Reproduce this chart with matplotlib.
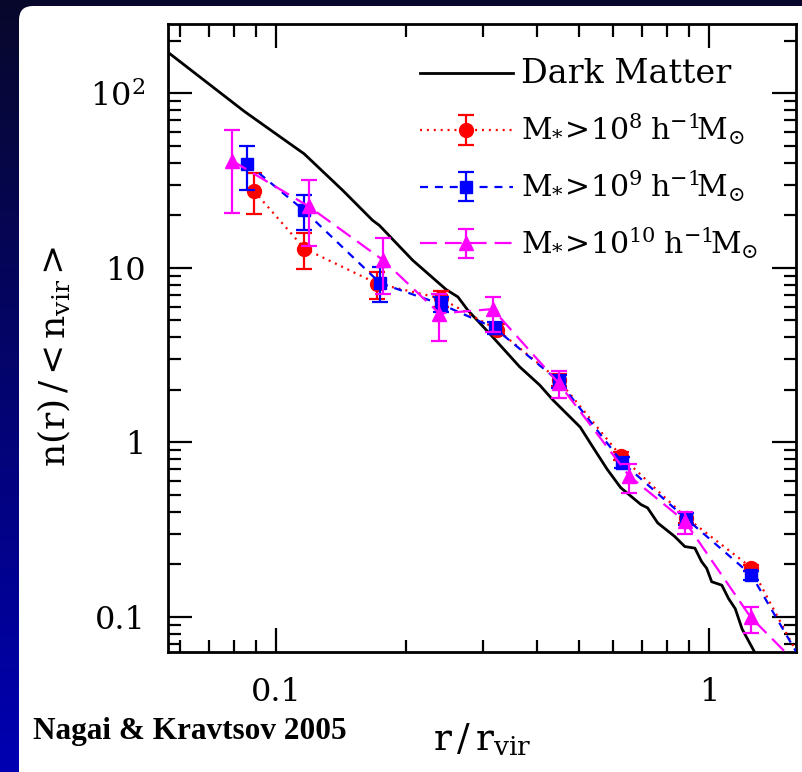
import numpy as np
import matplotlib
matplotlib.use("Agg")
import matplotlib.pyplot as plt
from matplotlib.patches import FancyBboxPatch
from matplotlib.ticker import FixedLocator, FixedFormatter, NullFormatter

plt.rcParams['font.family'] = ['DejaVu Serif']
plt.rcParams['mathtext.fontset'] = 'dejavuserif'

# dark matter profile n(r)/<n_vir>
dm_r = [0.056, 0.0845, 0.1, 0.1162, 0.1426, 0.1672, 0.1733, 0.2069, 0.2472, 0.263,
        0.2773, 0.3112, 0.365, 0.406, 0.4363, 0.469, 0.5036, 0.5362, 0.5809, 0.6243,
        0.6953, 0.7204, 0.7603, 0.8318, 0.8779, 0.9262, 0.9598, 0.9862, 1.0127, 1.0687,
        1.108, 1.148, 1.19, 1.279]
dm_n = [174, 78.9, 58.6, 45.0, 27.8, 18.7, 17.5, 11.04, 7.50, 6.81,
        5.71, 4.20, 2.71, 2.13, 1.741, 1.457, 1.222, 0.956, 0.702, 0.550,
        0.440, 0.421, 0.345, 0.2888, 0.2527, 0.2474, 0.2072, 0.1895, 0.1588, 0.1518,
        0.127, 0.1112, 0.0852, 0.0612]

# M* > 1e8
r8 = [0.0891, 0.1164, 0.1713, 0.2406, 0.3236, 0.4494, 0.6243, 0.8857, 1.251, 1.77]
n8 = [27.5, 12.88, 8.12, 6.67, 4.43, 2.27, 0.837, 0.3694, 0.1912, 0.038]
lo8 = [20.4, 9.9, 6.60, 6.0, 4.15, 2.10, 0.79, 0.347, 0.184, 0.038]
hi8 = [34.8, 15.9, 9.46, 7.4, 4.75, 2.45, 0.885, 0.392, 0.199, 0.038]

# M* > 1e9
r9 = [0.086, 0.1162, 0.1739, 0.2406, 0.3196, 0.4494, 0.630, 0.8857, 1.251, 1.77]
n9 = [39.5, 21.3, 8.18, 6.18, 4.52, 2.24, 0.766, 0.364, 0.1734, 0.0395]
lo9 = [27.8, 16.4, 6.37, 5.6, 4.20, 2.06, 0.71, 0.338, 0.163, 0.0395]
hi9 = [50.2, 26.3, 10.1, 6.8, 4.87, 2.44, 0.826, 0.392, 0.184, 0.0395]

# M* > 1e10
r10 = [0.0791, 0.119, 0.177, 0.2385, 0.3162, 0.4494, 0.6527, 0.878, 1.245, 1.77]
n10 = [41.2, 22.5, 11.04, 5.47, 5.80, 2.18, 0.643, 0.353, 0.0996, 0.0413]
lo10 = [20.6, 13.3, 7.12, 3.81, 4.29, 1.80, 0.514, 0.30, 0.0809, 0.0413]
hi10 = [61.7, 31.7, 14.75, 7.12, 6.78, 2.56, 0.751, 0.40, 0.1138, 0.0413]

W, H = 802, 772
fig = plt.figure(figsize=(W / 100, H / 100), dpi=100)

# background: blue gradient with white rounded panel
bg = fig.add_axes([0, 0, 1, 1])
bg.set_xlim(0, W)
bg.set_ylim(H, 0)
bg.axis('off')
t = np.linspace(0, 1, 256)[:, None]
top = np.array([0.03, 0.03, 0.17])
bot = np.array([0.0, 0.0, 0.70])
grad = (top + (bot - top) * t[:, :, None]) * np.ones((1, 2, 1))
bg.imshow(grad, extent=[0, W, H, 0], aspect='auto', zorder=0)
bg.add_patch(FancyBboxPatch((19, 6), 840, 800, boxstyle="round,pad=0,rounding_size=14",
                            fc='white', ec='none', zorder=1))

ax = fig.add_axes([167.5 / W, 1 - 651.7 / H, (796 - 167.5) / W, (651.7 - 23.5) / H])
ax.set_xscale('log')
ax.set_yscale('log')
ax.set_xlim(10 ** -1.25, 10 ** 0.2)
ax.set_ylim(10 ** -1.2, 10 ** 2.4)

ax.plot(dm_r, dm_n, color='black', lw=2.0, label='Dark Matter', zorder=3)

lw = 1.6
series = [
    (r8, n8, lo8, hi8, 'red', 'o', 10, (0, (0.9, 2.2)), r'$\mathrm{M_{*}\!>\!10^8\;h^{-1}\!M_{\odot}}$'),
    (r9, n9, lo9, hi9, 'blue', 's', 8, (0, (3.6, 3.1)), r'$\mathrm{M_{*}\!>\!10^9\;h^{-1}\!M_{\odot}}$'),
    (r10, n10, lo10, hi10, 'magenta', '^', 10, (0, (7.6, 3.6)), r'$\mathrm{M_{*}\!>\!10^{10}\;h^{-1}\!M_{\odot}}$'),
]
for i, (r, n, lo, hi, c, m, ms, ls, lab) in enumerate(series):
    n = np.array(n)
    yerr = [n - np.array(lo), np.array(hi) - n]
    ax.errorbar(r, n, yerr=yerr, color=c, marker=m, ms=ms, mec=c, lw=lw, ls=ls,
                elinewidth=1.6, capsize=6, capthick=1.6, label=lab, zorder=4 + i)

leg = ax.legend(loc='upper left', bbox_to_anchor=((420 - 167.5) / 628.5, (651.7 - 58) / 628.2),
                frameon=False, fontsize=21.5, handlelength=3.1, handletextpad=0.27,
                labelspacing=0.72, borderaxespad=0, borderpad=0)
leg.get_texts()[0].set_fontsize(24)

for s in ax.spines.values():
    s.set_linewidth(2)
ax.tick_params(which='both', direction='in', top=True, right=True, width=1.6,
               labelsize=23)
ax.tick_params(axis='x', pad=18)
ax.tick_params(axis='y', pad=16)
ax.tick_params(which='major', length=17)
ax.tick_params(which='minor', length=9)
ax.xaxis.set_major_locator(FixedLocator([0.1, 1]))
ax.xaxis.set_major_formatter(FixedFormatter(['0.1', '1']))
ax.xaxis.set_minor_locator(FixedLocator([0.06, 0.07, 0.08, 0.09] + [0.1 * k for k in range(2, 10)]))
ax.xaxis.set_minor_formatter(NullFormatter())
ax.yaxis.set_major_locator(FixedLocator([0.1, 1, 10, 100]))
ax.yaxis.set_major_formatter(FixedFormatter(['0.1', '1', '10', r'$10^2$']))
ax.yaxis.set_minor_locator(FixedLocator([d * k for d in (0.01, 0.1, 1, 10, 100) for k in range(2, 10)]))
ax.yaxis.set_minor_formatter(NullFormatter())

fig.text(54 / W, 1 - 356 / H, r'n(r)$\,$/$\,$<$\,$n$_{\rm vir}$$\,$>', rotation=90, fontsize=26,
         ha='center', va='center')
fig.text(482 / W, 1 - 740 / H, r'r$\,$/$\,$r$_{\rm vir}$', fontsize=27, ha='center', va='center')
fig.text(33 / W, 1 - 731 / H, 'Nagai & Kravtsov 2005', family='Liberation Serif',
         weight='bold', fontsize=22.5, ha='left', va='center')

fig.savefig('out.png', dpi=100)
